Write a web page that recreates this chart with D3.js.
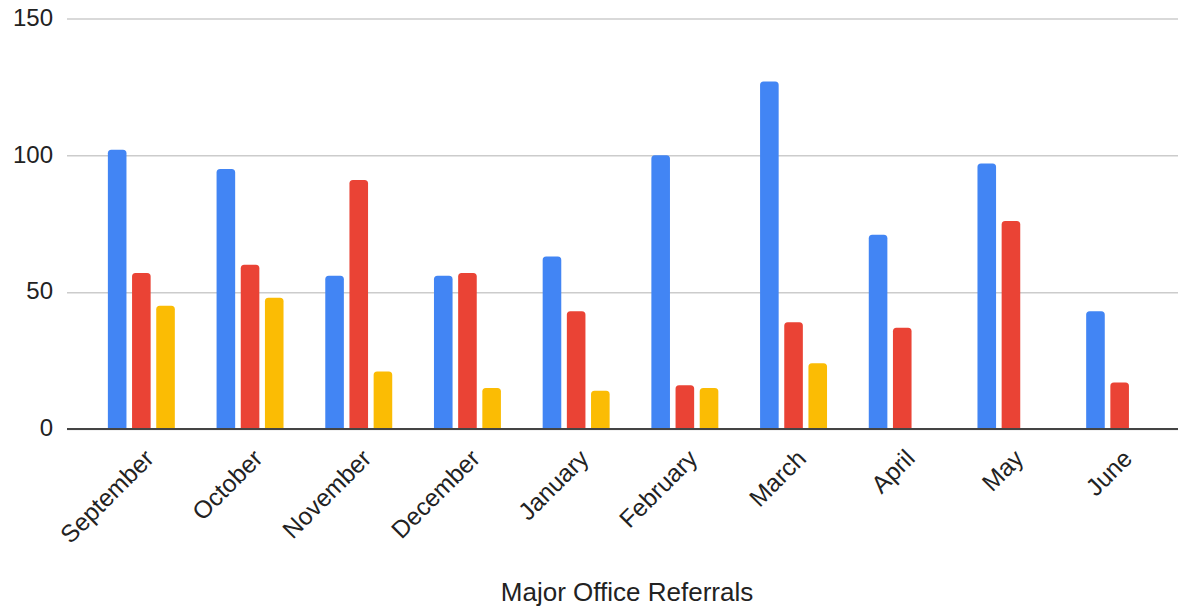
<!DOCTYPE html>
<html>
<head>
<meta charset="utf-8">
<script src="https://cdn.jsdelivr.net/npm/d3@7"></script>
<style>
  html, body { margin: 0; padding: 0; background: #fff; }
  svg { display: block; font-family: "Liberation Sans", Arial, sans-serif; }
</style>
</head>
<body>
<svg id="chart" width="1178" height="610"></svg>
<script>
// Monthly counts for three referral series
const months = ["September", "October", "November", "December", "January",
                "February", "March", "April", "May", "June"];
const seriesNames = ["s1", "s2", "s3"];
const series1 = [102, 95, 56, 56, 63, 100, 127, 71, 97, 43];
const series2 = [57, 60, 91, 57, 43, 16, 39, 37, 76, 17];
const series3 = [45, 48, 21, 15, 14, 15, 24, null, null, null];
const seriesColors = ["#4285F4", "#EA4335", "#FBBC04"];
const yTicks = [0, 50, 100, 150];
const xTitle = "Major Office Referrals";

const W = 1178, H = 610;
const plotLeft = 67, plotRight = 1178;
const svg = d3.select("#chart");

const y = d3.scaleLinear().domain([0, 150]).range([429, 18.5]);

const x0 = d3.scaleBand()
  .domain(months)
  .range([87, 1174])
  .paddingInner(0.384)
  .paddingOuter(0.192);

const x1 = d3.scaleBand()
  .domain(seriesNames)
  .range([0, x0.bandwidth()])
  .paddingInner(0.231);

// Gridlines and value labels
const yAxis = svg.append("g")
  .attr("transform", `translate(${plotLeft},0)`)
  .call(d3.axisLeft(y).tickValues(yTicks).tickSize(-(plotRight - plotLeft)).tickPadding(14));
yAxis.select(".domain").remove();
yAxis.selectAll(".tick line").attr("stroke", "#cccccc").attr("stroke-width", 1.5);
yAxis.selectAll(".tick text")
  .attr("fill", "#222")
  .attr("font-size", 24)
  .attr("dy", "0.28em");

// Bars with rounded tops
const valuesBySeries = [series1, series2, series3];
const rows = months.map((m, i) => ({
  month: m,
  vals: seriesNames.map((s, k) => ({ key: s, k, v: valuesBySeries[k][i] }))
}));

function topRounded(x, yTop, w, yBase, r) {
  const h = yBase - yTop;
  r = Math.min(r, w / 2, h);
  return `M${x},${yBase}V${yTop + r}Q${x},${yTop} ${x + r},${yTop}` +
         `H${x + w - r}Q${x + w},${yTop} ${x + w},${yTop + r}V${yBase}Z`;
}

const groups = svg.append("g").selectAll("g")
  .data(rows).join("g")
  .attr("transform", d => `translate(${x0(d.month)},0)`);

groups.selectAll("path")
  .data(d => d.vals.filter(e => e.v != null))
  .join("path")
  .attr("fill", e => seriesColors[e.k])
  .attr("d", e => topRounded(x1(e.key), y(e.v), x1.bandwidth(), y(0), 3.5));

// Baseline
svg.append("line")
  .attr("x1", plotLeft).attr("x2", plotRight)
  .attr("y1", y(0)).attr("y2", y(0))
  .attr("stroke", "#444").attr("stroke-width", 2);

// Category axis with slanted labels
const xAxis = svg.append("g")
  .attr("transform", `translate(0,${y(0)})`)
  .call(d3.axisBottom(x0).tickSize(0).tickPadding(0));
xAxis.select(".domain").remove();
xAxis.selectAll(".tick text")
  .attr("fill", "#222")
  .attr("font-size", 24.5)
  .attr("text-anchor", "end")
  .attr("y", 0).attr("dy", 0)
  .attr("transform", "translate(14,31) rotate(-45)");

// Axis title
svg.append("text")
  .attr("x", 627).attr("y", 601)
  .attr("text-anchor", "middle")
  .attr("font-size", 26)
  .attr("fill", "#222")
  .text(xTitle);
</script>
</body>
</html>
